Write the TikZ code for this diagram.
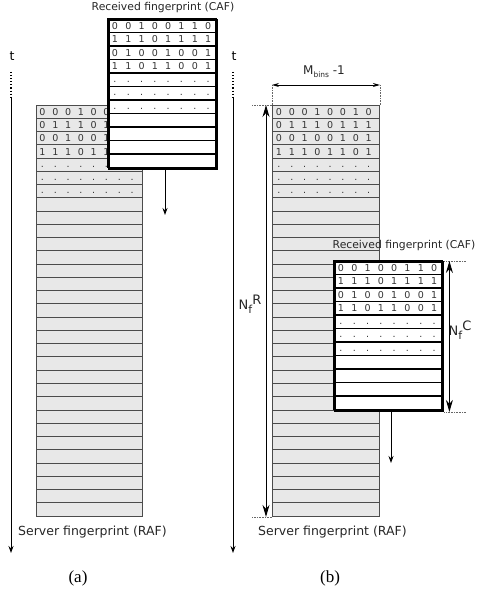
\documentclass[tikz,border=0pt]{standalone}
\usepackage{fontspec}
\setmainfont{DejaVu Sans}
\newfontfamily\capfont{Liberation Serif}
\usetikzlibrary{arrows.meta,positioning}

\begin{document}
\begin{tikzpicture}[x=1pt,y=-1pt,
  srow/.style={draw=black!70,fill=black!9,line width=0.9pt},
  crow/.style={draw=black,fill=white,line width=1.8pt},
  frame/.style={draw,anchor=north west,inner sep=0pt,minimum width=#1},
  bit/.style={font=\fontsize{9.5}{9.5}\selectfont,text=black!80,inner sep=0pt},
  lbl/.style={font=\fontsize{10.8}{12}\selectfont,text=black!85,inner sep=1pt},
  slbl/.style={font=\fontsize{12.5}{13}\selectfont,text=black!85,inner sep=1pt},
  nlbl/.style={font=\fontsize{13}{13}\selectfont,text=black!85,inner sep=1pt},
  tarr/.style={-{Stealth[length=7pt,width=5pt]},line width=0.9pt},
  bigarr/.style={{Stealth[length=12pt,width=7pt]}-{Stealth[length=12pt,width=7pt]},line width=1pt},
  dimarr/.style={{Stealth[length=7pt,width=4pt]}-{Stealth[length=7pt,width=4pt]},line width=0.8pt},
  guide/.style={densely dotted,line width=0.6pt,black!60},
]
\useasboundingbox (0,0) rectangle (477,596);

% ---------- (a) ----------
% time axis
\node[font=\fontsize{12.5}{12}\selectfont] (ta) at (12,56) {t};
\coordinate (ta-top) at (11,72);
\coordinate (ta-mid) at (11,98);
\coordinate (ta-bot) at (11,553);
\draw[dotted,line width=1.1pt] (ta-top) -- (ta-mid);
\draw[tarr] (ta-mid) -- (ta-bot);

% Server fingerprint (RAF)
\foreach \i in {0,...,30}
  \draw[srow] (36,105+\i*13.26) rectangle ++(106,13.26);
\node[frame=106pt,draw=black!70,line width=0.9pt,minimum height=411pt] (rafa) at (36,105) {};
\foreach \bits [count=\r from 0] in {{0,0,0,1,0,0,1,0},{0,1,1,1,0,1,1,1},{0,0,1,0,0,1,0,1},{1,1,1,0,1,1,0,1}}
  \foreach \b [count=\c from 0] in \bits
    \node[bit] (sa-\r-\c) at (42.5+\c*12.8,105+\r*13.26+6.9) {\b};
\foreach \r in {4,5,6}
  \foreach \c in {0,...,7}
    \node[bit] (da-\r-\c) at (42.5+\c*12.8,105+\r*13.26+8.5) {.};
\node[slbl,anchor=west] (rafa-lbl) at (17,532) {Server fingerprint (RAF)};

% Received fingerprint (CAF)
\foreach \i in {0,...,10}
  \draw[crow] (108,19+\i*13.5) rectangle ++(108,13.5);
\node[frame=108pt,line width=2.4pt,minimum height=148.5pt] (cafa) at (108,19) {};
\foreach \bits [count=\r from 0] in {{0,0,1,0,0,1,1,0},{1,1,1,0,1,1,1,1},{0,1,0,0,1,0,0,1},{1,1,0,1,1,0,0,1}}
  \foreach \b [count=\c from 0] in \bits
    \node[bit] (ca-\r-\c) at (115+\c*13.3,19+\r*13.5+7) {\b};
\foreach \r in {4,5,6}
  \foreach \c in {0,...,7}
    \node[bit] (dc-\r-\c) at (115+\c*13.3,19+\r*13.5+8.6) {.};
\node[lbl] (cafa-lbl) at (163,8) {Received fingerprint (CAF)};
\coordinate (cafa-end) at (165,215);
\draw[tarr] (cafa-end |- cafa.south) -- (cafa-end);

\node[font=\fontsize{17}{17}\selectfont\capfont] (capa) at (78,578) {(a)};

% ---------- (b) ----------
% time axis
\node[font=\fontsize{12.5}{12}\selectfont] (tb) at (234,56) {t};
\coordinate (tb-top) at (233,72);
\coordinate (tb-mid) at (233,98);
\coordinate (tb-bot) at (233,553);
\draw[dotted,line width=1.1pt] (tb-top) -- (tb-mid);
\draw[tarr] (tb-mid) -- (tb-bot);

% Server fingerprint (RAF)
\foreach \i in {0,...,30}
  \draw[srow] (272,105+\i*13.26) rectangle ++(107,13.26);
\node[frame=107pt,draw=black!70,line width=0.9pt,minimum height=411pt] (rafb) at (272,105) {};
\foreach \bits [count=\r from 0] in {{0,0,0,1,0,0,1,0},{0,1,1,1,0,1,1,1},{0,0,1,0,0,1,0,1},{1,1,1,0,1,1,0,1}}
  \foreach \b [count=\c from 0] in \bits
    \node[bit] (sb-\r-\c) at (279+\c*12.8,105+\r*13.26+6.9) {\b};
\foreach \r in {4,5,6}
  \foreach \c in {0,...,7}
    \node[bit] (db-\r-\c) at (279+\c*12.8,105+\r*13.26+8.5) {.};
\node[slbl,anchor=west] (rafb-lbl) at (257,532) {Server fingerprint (RAF)};

% M_bins - 1
\draw[guide] (rafb.north west) -- ++(0,-20) coordinate (mb-l);
\draw[guide] (rafb.north east) -- ++(0,-20) coordinate (mb-r);
\draw[dimarr] (mb-l) -- (mb-r);
\node[font=\fontsize{12}{12}\selectfont,text=black!85] (mbins) at (324,72)
  {M\raisebox{-0.5ex}{\fontsize{7.5}{7}\selectfont bins} -1};

% N_f^R
\draw[guide] (rafb.north west) -- ++(-20,0) coordinate (nr-t);
\draw[guide] (rafb.south west) -- ++(-20,0) coordinate (nr-b);
\draw[bigarr] ([xshift=14pt]nr-t) -- ([xshift=14pt]nr-b);
\node[nlbl] (nfr) at (250,304) {N\raisebox{-0.45ex}{\fontsize{11}{11}\selectfont f}\raisebox{0.75ex}{R}};

% Received fingerprint (CAF)
\foreach \i in {0,...,10}
  \draw[crow] (334,261+\i*13.5) rectangle ++(108,13.5);
\node[frame=108pt,line width=2.4pt,minimum height=148.5pt] (cafb) at (334,261) {};
\foreach \bits [count=\r from 0] in {{0,0,1,0,0,1,1,0},{1,1,1,0,1,1,1,1},{0,1,0,0,1,0,0,1},{1,1,0,1,1,0,0,1}}
  \foreach \b [count=\c from 0] in \bits
    \node[bit] (cb-\r-\c) at (341+\c*13.3,261+\r*13.5+7) {\b};
\foreach \r in {4,5,6}
  \foreach \c in {0,...,7}
    \node[bit] (dd-\r-\c) at (341+\c*13.3,261+\r*13.5+8.6) {.};
\node[lbl] (cafb-lbl) at (404,246) {Received fingerprint (CAF)};
\coordinate (cafb-end) at (391,463);
\draw[tarr] (cafb-end |- cafb.south) -- (cafb-end);

% N_f^C
\draw[guide] (cafb.north east) -- ++(21,0) coordinate (nc-t);
\draw[guide] (cafb.south east) -- ++(21,0) coordinate (nc-b);
\draw[bigarr] ([xshift=-16pt]nc-t) -- ([xshift=-16pt]nc-b);
\node[nlbl] (nfc) at (460,330) {N\raisebox{-0.45ex}{\fontsize{11}{11}\selectfont f}\raisebox{0.75ex}{C}};

\node[font=\fontsize{17}{17}\selectfont\capfont] (capb) at (330,578) {(b)};
\end{tikzpicture}
\end{document}
